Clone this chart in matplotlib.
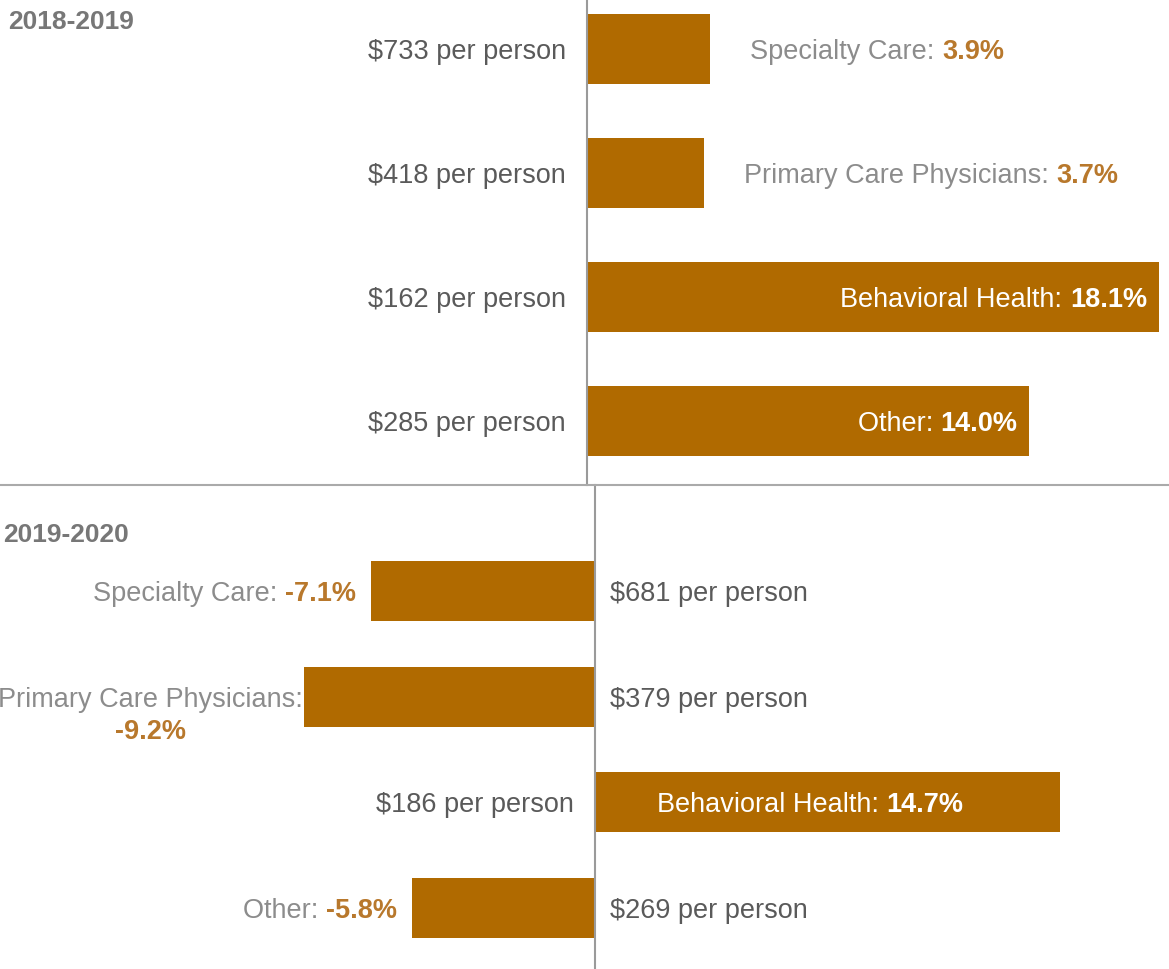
import matplotlib.pyplot as plt
from matplotlib.lines import Line2D

# data
categories = ["Specialty Care", "Primary Care Physicians", "Behavioral Health", "Other"]
change_1819 = [3.9, 3.7, 18.1, 14.0]
spend_1819 = [733, 418, 162, 285]
change_1920 = [-7.1, -9.2, 14.7, -5.8]
spend_1920 = [681, 379, 186, 269]

BAR = "#b06a00"
PCT = "#b8782c"
CAT = "#8c8c8c"
SPEND = "#5a5a5a"
FONT = ["Liberation Sans Narrow", "Liberation Sans", "DejaVu Sans"]
FS = 19.5
DY = -3  # nudge text down a little so it sits centred on the bars

SEP = 485  # separator row, in pixels from the top
fig = plt.figure(figsize=(11.69, 9.69), dpi=100)
ax_top = fig.add_axes([0, 1 - SEP / 969, 1, SEP / 969])
ax_bot = fig.add_axes([0, 0, 1, 1 - SEP / 969])


def two_part(ax, x, y, name, pct, dx, ha, inside):
    # category name in gray (or white), then the bold percentage
    c1 = "white" if inside else CAT
    c2 = "white" if inside else PCT
    if ha == "left":
        t = ax.annotate(name + ": ", (x, y), xytext=(dx, DY), textcoords="offset pixels",
                        ha="left", va="center", color=c1, fontsize=FS, family=FONT)
        ax.annotate(pct, (1, 0), xycoords=t, ha="left", va="bottom",
                    color=c2, fontsize=FS, family=FONT, fontweight="bold")
    else:
        t = ax.annotate(pct, (x, y), xytext=(dx, DY), textcoords="offset pixels",
                        ha="right", va="center", color=c2, fontsize=FS, family=FONT,
                        fontweight="bold")
        ax.annotate(name + ": ", (0, 0), xycoords=t, ha="right", va="bottom",
                    color=c1, fontsize=FS, family=FONT)


def panel(ax, changes, spend, xlim, ylim, bar_h):
    ypos = list(range(len(categories)))
    ax.barh(ypos, changes, height=bar_h, color=BAR)
    ax.axvline(0, color="#9a9a9a", lw=1.5, clip_on=False)
    for i, (name, v, s) in enumerate(zip(categories, changes, spend)):
        pct = f"{v:.1f}%"
        inside = abs(v) > 10
        if v > 0:
            if inside:
                if ax is ax_top:
                    two_part(ax, v, i, name, pct, -12, "right", True)
                else:
                    two_part(ax, 0, i, name, pct, 62, "left", True)
            else:
                two_part(ax, v, i, name, pct, 40, "left", False)
            ax.annotate(f"${s} per person", (0, i), xytext=(-21, DY), textcoords="offset pixels",
                        ha="right", va="center", color=SPEND, fontsize=FS, family=FONT)
        else:
            if len(name) > 20:
                # long name wraps: percentage goes on a second line
                t = ax.annotate(name + ":", (v, i), xytext=(-1, DY), textcoords="offset pixels",
                                ha="right", va="center", color=CAT, fontsize=FS, family=FONT)
                ax.annotate(pct, (0.5, 0), xycoords=t, xytext=(0, -6), textcoords="offset pixels",
                            ha="center", va="top",
                            color=PCT, fontsize=FS, family=FONT, fontweight="bold")
            else:
                two_part(ax, v, i, name, pct, -15, "right", False)
            ax.annotate(f"${s} per person", (0, i), xytext=(15, DY), textcoords="offset pixels",
                        ha="left", va="center", color=SPEND, fontsize=FS, family=FONT)
    ax.set_xlim(xlim)
    ax.set_ylim(ylim)
    ax.axis("off")


panel(ax_top, change_1819, spend_1819, (-587 / 31.6, (1169 - 587) / 31.6), (3.516, -0.395), 0.565)
ax_top.text(0.007, 1 - 22 / SEP, "2018-2019", transform=ax_top.transAxes, ha="left", va="center",
            fontsize=19, fontweight="bold", color="#777777", family=FONT)

panel(ax_bot, change_1920, spend_1920, (-595 / 31.6, (1169 - 595) / 31.6), (3.577, -1.003), 0.57)
ax_bot.text(0.003, 1 - 50 / (969 - SEP), "2019-2020", transform=ax_bot.transAxes, ha="left",
            va="center", fontsize=19, fontweight="bold", color="#777777", family=FONT)

fig.add_artist(Line2D([0, 1], [1 - SEP / 969] * 2, color="#aaaaaa", lw=1.5))

fig.savefig("out.png", dpi=100)
